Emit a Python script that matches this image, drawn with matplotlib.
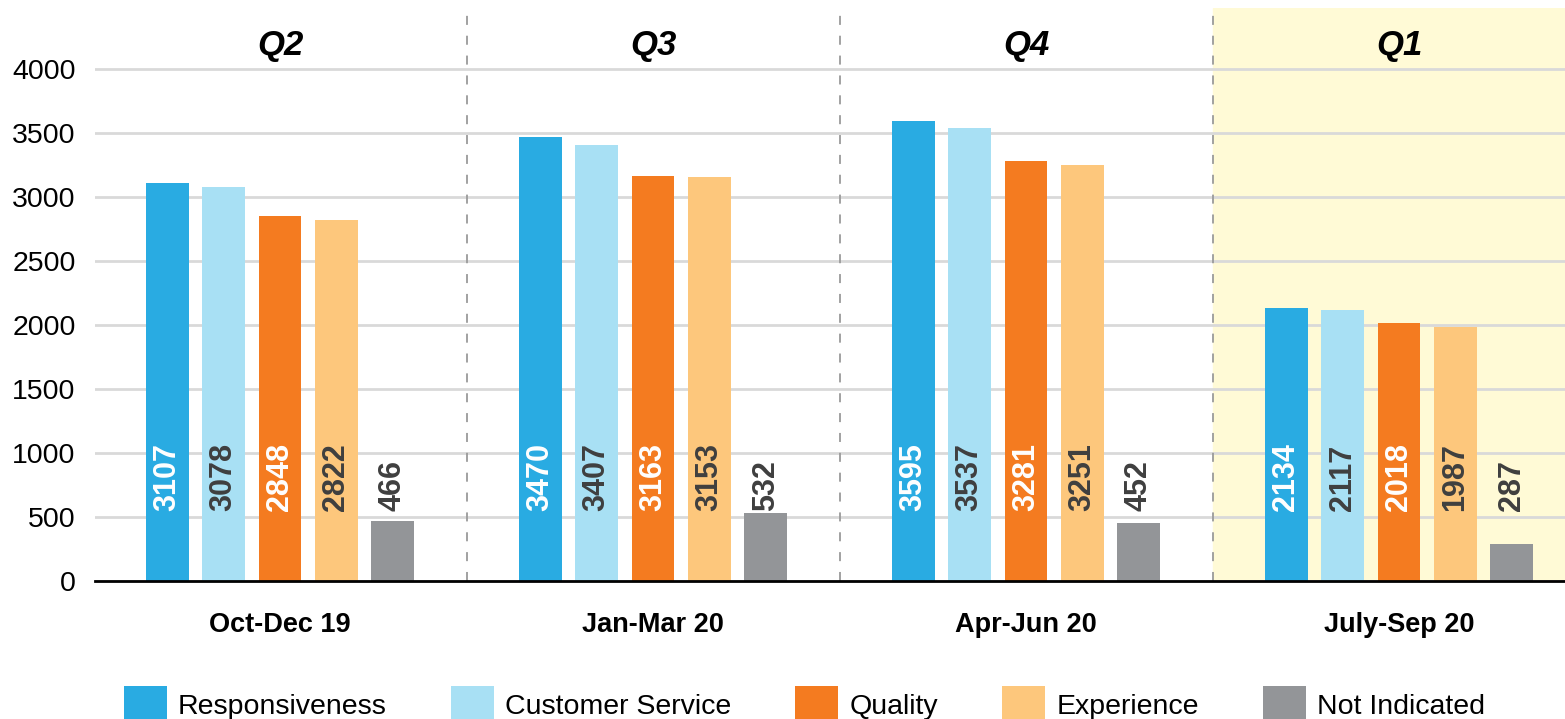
import matplotlib
matplotlib.use("Agg")
import matplotlib.pyplot as plt
import numpy as np

plt.rcParams['font.family'] = ['Liberation Sans', 'DejaVu Sans']

periods = ["Oct-Dec 19", "Jan-Mar 20", "Apr-Jun 20", "July-Sep 20"]
quarters = ["Q2", "Q3", "Q4", "Q1"]
series = ["Responsiveness", "Customer Service", "Quality", "Experience", "Not Indicated"]
responsiveness = [3107, 3470, 3595, 2134]
customer_service = [3078, 3407, 3537, 2117]
quality = [2848, 3163, 3281, 2018]
experience = [2822, 3153, 3251, 1987]
not_indicated = [466, 532, 452, 287]

values = [responsiveness, customer_service, quality, experience, not_indicated]
colors = ["#29ABE2", "#A8E0F4", "#F47B20", "#FDC77C", "#939598"]
label_colors = ["white", "#3F3F3F", "white", "#3F3F3F", "#3F3F3F"]

fig = plt.figure(figsize=(15.65, 7.19), dpi=100)
ax = fig.add_axes([0.0607, 0.192, 0.9393, 0.797])

x = np.arange(len(periods))
step = 0.151
width = 0.115

# highlight last quarter
ax.axvspan(2.5, 3.6, color="#FFFAD6", zorder=0)

bars = []
for i, (vals, c, lc) in enumerate(zip(values, colors, label_colors)):
    pos = x + (i - 2) * step
    b = ax.bar(pos, vals, width, color=c, zorder=3, label=series[i])
    bars.append(b)
    for p, v in zip(pos, vals):
        ax.text(p, 548, str(v), rotation=90, ha="center", va="bottom",
                color=lc, fontsize=22, fontweight="bold", zorder=4)

for sep in [0.5, 1.5, 2.5]:
    ax.axvline(sep, color="#9A9A9A", linestyle=(0, (5, 6)), linewidth=1.3, zorder=1)

for xi, q in zip(x, quarters):
    ax.text(xi, 4187, q, ha="center", va="center", fontsize=25,
            fontweight="bold", fontstyle="italic")

ax.set_xlim(-0.496, 3.445)
ax.set_ylim(0, 4477)
ax.set_yticks([0, 500, 1000, 1500, 2000, 2500, 3000, 3500, 4000])
ax.yaxis.grid(True, color="#D9D9D9", linewidth=2, zorder=1)
ax.set_axisbelow(True)
ax.tick_params(axis="y", length=0, pad=14, labelsize=20.5)
ax.set_xticks(x)
ax.set_xticklabels(periods, fontsize=19.5, fontweight="bold")
ax.tick_params(axis="x", length=0, pad=22)
for s in ["top", "right", "left"]:
    ax.spines[s].set_visible(False)
ax.spines["bottom"].set_linewidth(2)
ax.spines["bottom"].set_zorder(5)

fig.legend(handles=bars, loc="center", bbox_to_anchor=(0.514, 0.02), ncol=5,
           frameon=False, fontsize=20.5, handlelength=1.5, handleheight=1.6,
           handletextpad=0.4, columnspacing=2.25)

fig.savefig("out.png", dpi=100)
